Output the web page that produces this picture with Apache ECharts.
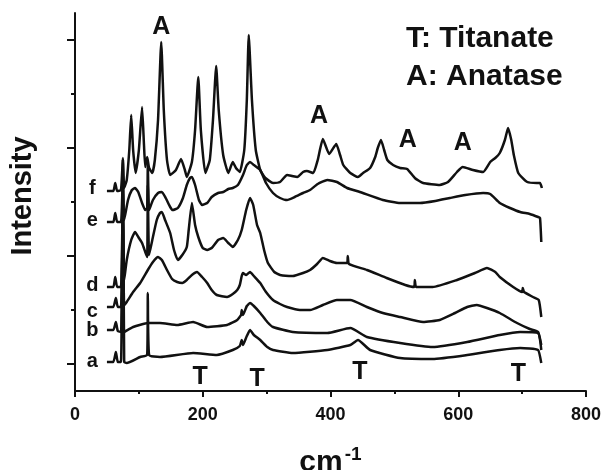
<!DOCTYPE html>
<html>
<head>
<meta charset="utf-8">
<script src="https://cdn.jsdelivr.net/npm/echarts@6/dist/echarts.min.js"></script>
<style>
  html, body { margin: 0; padding: 0; background: #fff; }
  #chart { width: 603px; height: 470px; }
</style>
</head>
<body>
<div id="chart"></div>
<script>
// Raman spectra, [wavenumber cm-1, intensity a.u. incl. offset]
const curveA = [[50,29],[60,29],[64,39],[67,29],[72,29],[75,231],[77,29],[81,28],[102,34],[113,36],[114,98],[116,36],[133,34],[185,38],[222,36],[247,41],[258,45],[261,51],[263,46],[269,55],[274,61],[280,56],[290,51],[301,44],[310,41],[341,38],[395,41],[431,46],[443,51],[462,41],[509,33],[560,32],[614,36],[665,41],[697,43],[725,41],[730,28]]
const curveB = [[50,61],[60,61],[64,69],[67,60],[72,59],[75,141],[77,59],[91,64],[114,68],[133,68],[160,66],[185,69],[207,64],[238,66],[254,71],[260,76],[261,81],[263,76],[269,85],[274,88],[280,85],[290,78],[301,69],[310,64],[341,59],[395,58],[431,63],[457,54],[509,48],[560,44],[614,49],[665,56],[697,59],[725,58],[730,41]]
const curveC = [[50,84],[60,84],[64,93],[67,84],[72,84],[75,171],[77,86],[81,89],[91,99],[102,108],[114,121],[122,129],[130,134],[136,131],[144,121],[152,112],[160,109],[168,108],[175,111],[183,116],[191,119],[199,114],[207,108],[214,101],[222,96],[238,94],[247,97],[254,101],[258,106],[261,115],[263,118],[268,116],[274,119],[280,115],[290,108],[299,99],[310,91],[321,87],[332,84],[352,81],[368,81],[388,86],[410,91],[431,91],[457,84],[482,78],[509,74],[545,69],[571,71],[595,78],[614,84],[629,86],[645,83],[665,78],[692,68],[712,62],[725,59],[730,46]]
const curveD = [[50,104],[60,104],[63,114],[66,104],[72,104],[75,201],[77,111],[81,131],[88,151],[94,159],[100,153],[105,148],[110,139],[113,134],[114,206],[116,136],[122,154],[128,171],[133,178],[136,179],[141,171],[149,158],[155,141],[161,131],[168,136],[175,144],[178,161],[183,188],[188,166],[193,154],[200,143],[207,141],[214,143],[224,151],[232,153],[240,148],[247,144],[255,151],[261,161],[268,181],[274,193],[279,186],[285,166],[290,158],[296,141],[302,128],[312,119],[321,116],[341,115],[357,118],[368,121],[379,127],[388,133],[399,130],[410,128],[426,128],[427,135],[429,127],[457,121],[488,113],[517,106],[531,104],[532,111],[534,104],[560,104],[598,111],[626,118],[645,123],[658,119],[665,114],[686,104],[700,99],[701,103],[703,99],[717,94],[726,91],[730,74]]
const curveE = [[50,169],[60,169],[63,178],[66,169],[72,169],[75,216],[77,171],[83,191],[89,201],[94,203],[99,199],[105,188],[110,181],[113,183],[114,226],[116,181],[122,191],[130,198],[136,199],[142,193],[149,184],[153,181],[161,183],[169,193],[175,206],[180,213],[183,214],[188,206],[194,191],[199,186],[207,188],[214,194],[224,198],[232,199],[240,202],[247,203],[255,206],[263,216],[269,226],[274,229],[280,226],[290,221],[299,208],[310,198],[321,193],[332,191],[344,194],[357,198],[368,201],[380,207],[395,211],[410,209],[426,203],[446,199],[482,191],[509,188],[540,188],[564,190],[587,193],[611,196],[639,198],[650,197],[665,188],[681,183],[697,179],[712,177],[725,174],[728,173],[730,149]]
const curveF = [[50,200],[60,200],[63,208],[66,200],[72,201],[75,233],[77,203],[81,211],[85,241],[88,276],[91,241],[95,218],[100,241],[105,284],[108,246],[110,224],[113,234],[116,223],[121,218],[125,231],[130,271],[135,349],[139,281],[144,231],[149,216],[158,221],[166,232],[172,221],[175,214],[183,229],[188,261],[193,314],[197,261],[204,218],[211,231],[216,271],[221,325],[225,281],[232,236],[240,218],[247,229],[252,223],[258,219],[265,241],[269,291],[272,356],[277,291],[283,241],[290,221],[298,213],[310,208],[321,209],[332,216],[340,215],[348,214],[357,219],[363,220],[373,218],[380,231],[388,252],[398,237],[409,247],[415,236],[420,226],[431,218],[443,214],[451,218],[462,223],[470,234],[474,243],[479,251],[484,241],[489,231],[498,226],[509,223],[520,222],[532,213],[545,208],[571,206],[584,209],[598,219],[607,224],[623,221],[639,219],[650,229],[658,233],[665,238],[673,251],[678,263],[683,251],[687,236],[694,218],[708,209],[723,208],[728,208],[731,203]]

const curveNames = ['a', 'b', 'c', 'd', 'e', 'f']
const curves = [curveA, curveB, curveC, curveD, curveE, curveF]
// label anchors, data coords
const curveLabelPos = [[27,30],[27,61],[27,80],[27,106],[27,171],[27,203]]
const anataseMarks = [[135,364],[382,275],[521,251],[607,248]]
const titanateMarks = [[196,14],[285,12],[446,19],[694,17]]
const yTickValues = [27, 135, 243, 351]

const chart = echarts.init(document.getElementById('chart'))
const ink = '#111'
const font = 'Liberation Sans, Arial, sans-serif'

const lineSeries = curves.map((d, i) => ({
  name: curveNames[i],
  type: 'line',
  data: d,
  showSymbol: false,
  symbol: 'none',
  smooth: 0.15,
  lineStyle: { color: ink, width: 2.5 },
  z: 2,
}))

function textSeries(points, texts, size) {
  return {
    type: 'scatter',
    symbolSize: 0,
    silent: true,
    itemStyle: { opacity: 1 },
    data: points.map((p, i) => ({ value: p, name: texts[i] })),
    label: {
      show: true,
      position: 'inside',
      formatter: (p) => p.name,
      color: ink,
      textBorderWidth: 0,
      fontFamily: font,
      fontWeight: 'bold',
      fontSize: size,
    },
    z: 5,
  }
}

const option = {
  animation: false,
  backgroundColor: '#fff',
  grid: { left: 75, right: 17, top: 13, bottom: 79, outerBoundsMode: 'none' },
  xAxis: {
    type: 'value',
    min: 0,
    max: 800,
    interval: 200,
    name: '{m|cm}{s|-1}',
    nameLocation: 'middle',
    nameGap: 54,
    nameTextStyle: {
      rich: {
        m: { fontSize: 30, lineHeight: 36, fontWeight: 'bold', fontFamily: font, color: ink },
        s: { fontSize: 19, lineHeight: 19, fontWeight: 'bold', fontFamily: font, color: ink, verticalAlign: 'top', padding: [0, 0, 0, 2] },
      },
    },
    axisLine: { lineStyle: { color: ink, width: 2 } },
    axisTick: { length: 6, lineStyle: { color: ink, width: 2 } },
    minorTick: { show: true, splitNumber: 2, length: 3, lineStyle: { color: ink, width: 2 } },
    axisLabel: { color: ink, fontFamily: font, fontWeight: 'bold', fontSize: 18, margin: 15 },
    splitLine: { show: false },
  },
  yAxis: {
    type: 'value',
    min: 0,
    max: 378,
    interval: 54,
    name: 'Intensity',
    nameLocation: 'middle',
    nameRotate: 90,
    nameGap: 38,
    nameTextStyle: { color: ink, fontFamily: font, fontWeight: 'bold', fontSize: 29, padding: [0, 0, 0, 12] },
    axisLine: { show: true, lineStyle: { color: ink, width: 2 } },
    axisTick: { show: true, customValues: yTickValues, length: 8, lineStyle: { color: ink, width: 2 } },
    minorTick: { show: true, splitNumber: 2, length: 4, lineStyle: { color: ink, width: 2 } },
    axisLabel: { show: false },
    splitLine: { show: false },
  },
  graphic: [
    { type: 'text', left: 406, top: 24, style: { text: 'T: Titanate', fill: ink, font: 'bold 30px ' + font } },
    { type: 'text', left: 406, top: 62, style: { text: 'A: Anatase', fill: ink, font: 'bold 30px ' + font } },
  ],
  series: [
    ...lineSeries,
    textSeries(curveLabelPos, curveNames, 20),
    textSeries(anataseMarks, anataseMarks.map(() => 'A'), 25),
    textSeries(titanateMarks, titanateMarks.map(() => 'T'), 25),
  ],
}

chart.setOption(option)
</script>
</body>
</html>
